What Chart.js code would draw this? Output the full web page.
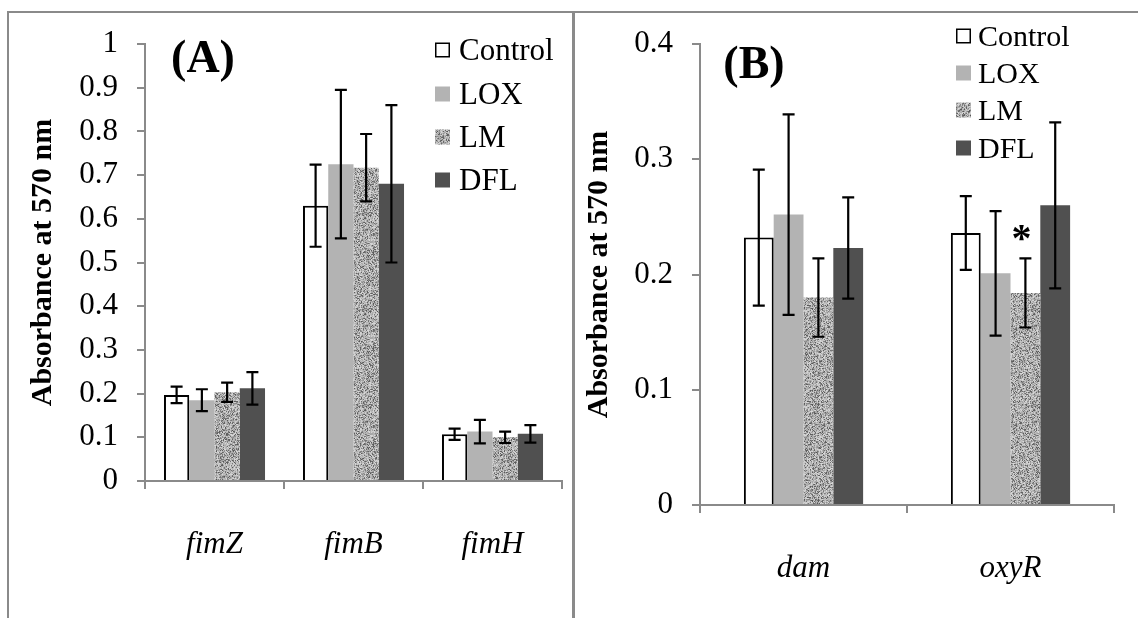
<!DOCTYPE html>
<html>
<head>
<meta charset="utf-8">
<script src="https://cdn.jsdelivr.net/npm/chart.js@4.4.1/dist/chart.umd.min.js"></script>
<style>
  html, body { margin: 0; padding: 0; background: #fff; }
  #wrap { position: relative; width: 1138px; height: 618px; overflow: hidden; background: #fff; }
  canvas { position: absolute; top: 0; }
  #chartA { left: 0; }
  #chartB { left: 573px; }
  .rule { position: absolute; background: #8a8a8a; }
</style>
</head>
<body>
<div id="wrap">
  <canvas id="chartA" width="573" height="618"></canvas>
  <canvas id="chartB" width="565" height="618"></canvas>
  <div class="rule" style="left:7px; top:11px; width:2px; height:607px;"></div>
  <div class="rule" style="left:7px; top:11px; width:1131px; height:2px;"></div>
  <div class="rule" style="left:572px; top:11px; width:3px; height:607px;"></div>
</div>
<script>
// ---- data ----
const seriesNames = ['Control', 'LOX', 'LM', 'DFL'];

// Panel A: fimbrial genes
const genesA = ['fimZ', 'fimB', 'fimH'];
const controlA = [0.197, 0.630, 0.107];
const loxA     = [0.185, 0.725, 0.113];
const lmA      = [0.203, 0.717, 0.100];
const dflA     = [0.212, 0.680, 0.108];
const controlErrA = [0.019, 0.094, 0.013];
const loxErrA     = [0.025, 0.170, 0.027];
const lmErrA      = [0.022, 0.077, 0.013];
const dflErrA     = [0.037, 0.180, 0.020];
const yTicksA = [0, 0.1, 0.2, 0.3, 0.4, 0.5, 0.6, 0.7, 0.8, 0.9, 1];

// Panel B: dam / oxyR
const genesB = ['dam', 'oxyR'];
const controlB = [0.232, 0.236];
const loxB     = [0.252, 0.201];
const lmB      = [0.180, 0.184];
const dflB     = [0.223, 0.260];
const controlErrB = [0.059, 0.032];
const loxErrB     = [0.087, 0.054];
const lmErrB      = [0.034, 0.030];
const dflErrB     = [0.044, 0.072];
const yTicksB = [0, 0.1, 0.2, 0.3, 0.4];
// significance marks: [category index, series index, symbol]
const marksB = [[1, 2, '*']];

// ---- styling ----
const SERIF = "'Liberation Serif', 'Times New Roman', serif";
const AXIS_GREY = '#8a8a8a';

// grey speckle texture for the LM series (fixed-seed generator so it is stable)
function speckleCanvas(size) {
  const c = document.createElement('canvas');
  c.width = c.height = size;
  const g = c.getContext('2d');
  const img = g.createImageData(size, size);
  let s = 20240611;
  const rnd = () => { s = (s * 1103515245 + 12345) & 0x7fffffff; return s / 0x7fffffff; };
  for (let i = 0; i < size * size; i++) {
    let v;
    if (rnd() < 0.3) v = 85 + rnd() * 65; else v = 158 + rnd() * 60;
    img.data[i * 4] = img.data[i * 4 + 1] = img.data[i * 4 + 2] = Math.round(v);
    img.data[i * 4 + 3] = 255;
  }
  g.putImageData(img, 0, 0);
  return c;
}
const speckle = speckleCanvas(96);
function speckleFill(ctx) { return ctx.createPattern(speckle, 'repeat'); }

function makeDatasets(ctx, ctl, lox, lm, dfl, errs) {
  return [
    { label: seriesNames[0], data: ctl, errors: errs[0], backgroundColor: '#ffffff',
      borderColor: '#000000', borderWidth: 2, borderSkipped: 'start' },
    { label: seriesNames[1], data: lox, errors: errs[1], backgroundColor: '#b3b3b3', borderWidth: 0 },
    { label: seriesNames[2], data: lm, errors: errs[2], backgroundColor: speckleFill(ctx), borderWidth: 0 },
    { label: seriesNames[3], data: dfl, errors: errs[3], backgroundColor: '#505050', borderWidth: 0 }
  ];
}

// error bars (mean ± error) drawn through the value scale
const errorBars = {
  id: 'errorBars',
  afterDatasetsDraw(chart) {
    const ctx = chart.ctx, ys = chart.scales.y;
    ctx.save();
    ctx.strokeStyle = '#000';
    ctx.lineWidth = 2.2;
    chart.data.datasets.forEach((ds, di) => {
      const meta = chart.getDatasetMeta(di);
      meta.data.forEach((bar, i) => {
        const v = ds.data[i], e = ds.errors[i];
        const yTop = ys.getPixelForValue(v + e), yBot = ys.getPixelForValue(v - e);
        const x = bar.x, hw = 6;
        ctx.beginPath();
        ctx.moveTo(x, yTop); ctx.lineTo(x, yBot);
        ctx.moveTo(x - hw, yTop); ctx.lineTo(x + hw, yTop);
        ctx.moveTo(x - hw, yBot); ctx.lineTo(x + hw, yBot);
        ctx.stroke();
      });
    });
    ctx.restore();
  }
};

// panel letter, legend and significance marks
const panelDecor = {
  id: 'panelDecor',
  afterDraw(chart, args, opts) {
    const ctx = chart.ctx;
    ctx.save();
    // panel letter
    ctx.fillStyle = '#000';
    ctx.font = `bold ${opts.letterSize}px ${SERIF}`;
    ctx.textAlign = 'center';
    ctx.textBaseline = 'middle';
    ctx.fillText(opts.letter, opts.letterX, opts.letterY);

    // legend
    const L = opts.legend;
    ctx.font = `${L.size}px ${SERIF}`;
    ctx.textAlign = 'left';
    chart.data.datasets.forEach((ds, i) => {
      const cy = L.rows[i];
      const bx = L.boxX, by = cy - L.box / 2;
      if (ds.borderWidth) {
        ctx.fillStyle = '#fff';
        ctx.fillRect(bx, by, L.box, L.box);
        ctx.strokeStyle = '#000';
        ctx.lineWidth = 1.5;
        ctx.strokeRect(bx + 0.75, by + 0.75, L.box - 1.5, L.box - 1.5);
      } else {
        ctx.fillStyle = ds.backgroundColor;
        ctx.fillRect(bx, by, L.box, L.box);
      }
      ctx.fillStyle = '#000';
      ctx.fillText(ds.label, L.textX, cy + 2);
    });

    // significance marks above the error bar
    (opts.marks || []).forEach(([ci, si, sym]) => {
      const ds = chart.data.datasets[si];
      const bar = chart.getDatasetMeta(si).data[ci];
      const y = chart.scales.y.getPixelForValue(ds.data[ci] + ds.errors[ci]);
      ctx.font = `bold 40px ${SERIF}`;
      ctx.textAlign = 'center';
      ctx.textBaseline = 'middle';
      ctx.fillStyle = '#000';
      ctx.fillText(sym, bar.x - 4, y - 18);
    });
    ctx.restore();
  }
};

function buildChart(canvasId, cfg) {
  const canvas = document.getElementById(canvasId);
  const ctx = canvas.getContext('2d');
  return new Chart(ctx, {
    type: 'bar',
    data: {
      labels: cfg.labels,
      datasets: makeDatasets(ctx, ...cfg.series, cfg.errors)
    },
    options: {
      responsive: false,
      animation: false,
      devicePixelRatio: 1,
      layout: { padding: cfg.padding },
      datasets: { bar: { categoryPercentage: cfg.catPct, barPercentage: 1 } },
      plugins: {
        legend: { display: false },
        tooltip: { enabled: false },
        panelDecor: cfg.decor
      },
      scales: {
        x: {
          afterFit(s) { s.height = 110; },
          border: { display: true, color: AXIS_GREY, width: 2 },
          grid: { display: true, offset: true, drawOnChartArea: false, drawTicks: true,
                  tickLength: 8, color: AXIS_GREY, lineWidth: 2 },
          ticks: { color: '#000', padding: 37,
                   font: { family: SERIF, size: 31, style: 'italic' } }
        },
        y: {
          min: 0, max: cfg.yTicks[cfg.yTicks.length - 1],
          afterFit(s) { s.width = cfg.yWidth; },
          afterBuildTicks(s) { s.ticks = cfg.yTicks.map(v => ({ value: v })); },
          border: { display: true, color: AXIS_GREY, width: 2 },
          grid: { display: true, drawOnChartArea: false, drawTicks: true,
                  tickLength: 8, color: AXIS_GREY, lineWidth: 2 },
          ticks: { color: '#000', padding: 19, font: { family: SERIF, size: 31 },
                   callback: v => String(v) },
          title: { display: true, text: 'Absorbance at 570 nm', color: '#000',
                   font: { family: SERIF, size: 30, weight: 'bold' },
                   padding: { top: cfg.titlePad, bottom: 0 } }
        }
      }
    },
    plugins: [errorBars, panelDecor]
  });
}

buildChart('chartA', {
  labels: genesA,
  series: [controlA, loxA, lmA, dflA],
  errors: [controlErrA, loxErrA, lmErrA, dflErrA],
  yTicks: yTicksA,
  yWidth: 145,
  titlePad: 25,
  catPct: 0.727,
  padding: { left: 0, right: 11, top: 44, bottom: 27 },
  decor: {
    letter: '(A)', letterSize: 46, letterX: 203, letterY: 60,
    legend: { boxX: 435, box: 15, textX: 459, size: 31, rows: [50, 94, 137, 180] },
    marks: []
  }
});

buildChart('chartB', {
  labels: genesB,
  series: [controlB, loxB, lmB, dflB],
  errors: [controlErrB, loxErrB, lmErrB, dflErrB],
  yTicks: yTicksB,
  yWidth: 127,
  titlePad: 8,
  catPct: 0.576,
  padding: { left: 0, right: 24, top: 44, bottom: 3 },
  decor: {
    letter: '(B)', letterSize: 46, letterX: 181, letterY: 66,
    legend: { boxX: 383, box: 15, textX: 405, size: 30, rows: [36, 73, 110, 148] },
    marks: marksB
  }
});
</script>
</body>
</html>
